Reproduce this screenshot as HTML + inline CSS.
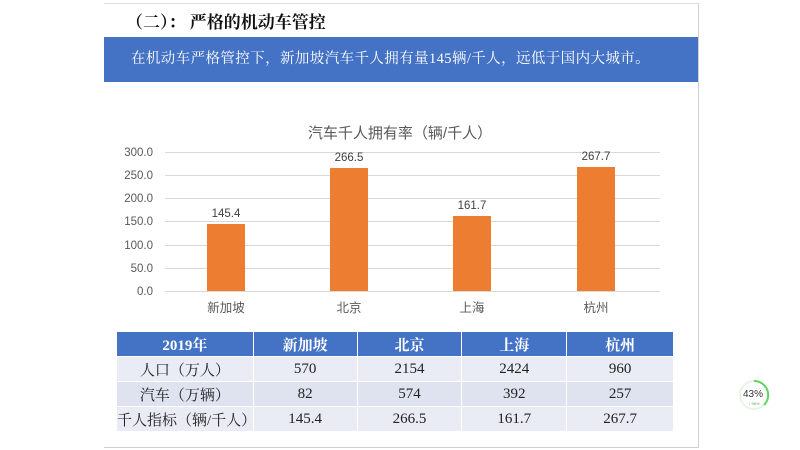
<!DOCTYPE html>
<html><head><meta charset="utf-8"><style>
body{margin:0;width:800px;height:450px;background:#fff;position:relative;overflow:hidden;font-family:"Liberation Serif","Noto Serif CJK SC",serif}
.frame{position:absolute;left:104px;top:3px;width:594px;height:443px;border:1px solid #cfcfcf;border-left:none;border-top:1px solid #ddd}
.title{position:absolute;left:126px;top:8px;font-size:17px;font-weight:bold;color:#111}
.band{position:absolute;left:104px;top:37px;width:594px;height:45px;background:#4472c4;color:#fff;font-size:14.5px;line-height:45px;text-indent:27px;letter-spacing:0.4px}
table{position:absolute;left:116px;top:331px;width:558px;border-collapse:collapse;font-size:15px;text-align:center}
td,th{border:1px solid #fff;padding:0;height:24px}
th{background:#4472c4;color:#fff;font-weight:bold}
td{background:#e9ebf5;color:#222}
</style></head><body>
<div class="frame"></div>
<div class="title">（二）：&nbsp;严格的机动车管控</div>
<div class="band">在机动车严格管控下，新加坡汽车千人拥有量145辆/千人，远低于国内大城市。</div>
<svg style="position:absolute;left:0;top:0" width="800" height="330" font-family="Liberation Sans,Noto Sans CJK SC,sans-serif">
<text x="400" y="138" font-size="15" fill="#595959" text-anchor="middle">汽车千人拥有率（辆/千人）</text>
<g stroke="#d9d9d9" stroke-width="1">
<line x1="165" x2="660" y1="152.5" y2="152.5"/><line x1="165" x2="660" y1="175.5" y2="175.5"/><line x1="165" x2="660" y1="198.5" y2="198.5"/><line x1="165" x2="660" y1="221.5" y2="221.5"/><line x1="165" x2="660" y1="245.5" y2="245.5"/><line x1="165" x2="660" y1="268.5" y2="268.5"/><line x1="165" x2="660" y1="291.5" y2="291.5"/>
</g>
<g font-size="11.5" fill="#595959" text-anchor="end">
<text x="153" y="156">300.0</text><text x="153" y="179">250.0</text><text x="153" y="202">200.0</text><text x="153" y="225">150.0</text><text x="153" y="249">100.0</text><text x="153" y="272">50.0</text><text x="153" y="295">0.0</text>
</g>
<g fill="#ed7d31">
<rect x="207" y="224" width="38" height="67"/><rect x="330" y="168" width="38" height="123"/><rect x="453" y="216" width="38" height="75"/><rect x="577" y="167" width="38" height="124"/>
</g>
<g font-size="11.5" fill="#404040" text-anchor="middle">
<text x="226" y="217">145.4</text><text x="349" y="161">266.5</text><text x="472" y="209">161.7</text><text x="596" y="160">267.7</text>
</g>
<g font-size="12.5" fill="#595959" text-anchor="middle">
<text x="226" y="312">新加坡</text><text x="349" y="312">北京</text><text x="472" y="312">上海</text><text x="596" y="312">杭州</text>
</g>
</svg>
<table>
<colgroup><col style="width:137px"><col style="width:104px"><col style="width:105px"><col style="width:105px"><col style="width:107px"></colgroup>
<tr><th>2019年</th><th>新加坡</th><th>北京</th><th>上海</th><th>杭州</th></tr>
<tr><td>人口（万人）</td><td>570</td><td>2154</td><td>2424</td><td>960</td></tr>
<tr><td style="background:#dfe3f0">汽车（万辆）</td><td style="background:#dfe3f0">82</td><td style="background:#dfe3f0">574</td><td style="background:#dfe3f0">392</td><td style="background:#dfe3f0">257</td></tr>
<tr><td>千人指标（辆/千人）</td><td>145.4</td><td>266.5</td><td>161.7</td><td>267.7</td></tr>
</table>
<svg style="position:absolute;left:738px;top:379px" width="32" height="32">
<circle cx="16" cy="16" r="14" fill="#fff" stroke="#e6f5e6" stroke-width="2"/>
<path d="M16 2 A14 14 0 0 1 26 26" fill="none" stroke="#5cd65c" stroke-width="2"/>
<text x="15" y="18" font-size="10" text-anchor="middle" fill="#333" font-family="Liberation Sans,sans-serif">43%</text>
<text x="16" y="26" font-size="4" text-anchor="middle" fill="#5a5" font-family="Liberation Sans,sans-serif">↓ 96%</text>
</svg>
</body></html>
